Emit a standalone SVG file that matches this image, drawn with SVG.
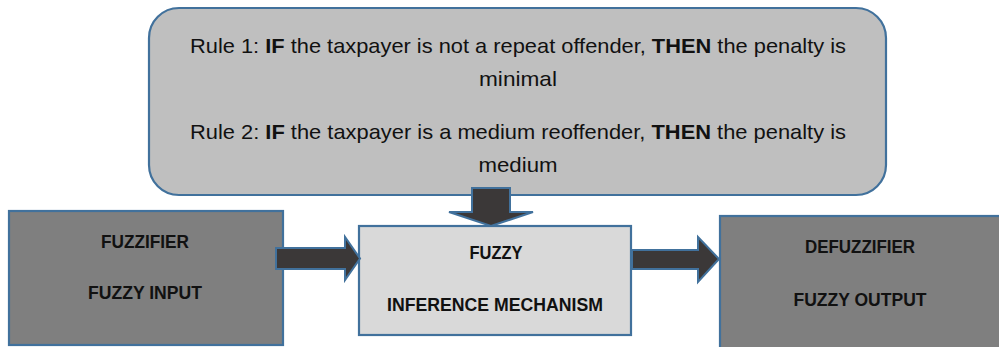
<svg xmlns="http://www.w3.org/2000/svg" width="999" height="347" viewBox="0 0 999 347">
  <style>
    .edge { stroke: #41719c; stroke-width: 2.2; }
    .rules { fill: #bfbfbf; }
    .outer { fill: #7f7f7f; }
    .engine { fill: #d9d9d9; }
    .arrow { fill: #3b3838; stroke: #41719c; stroke-width: 2; stroke-linejoin: miter; }
    .rule { font-family: "Liberation Sans", Arial, sans-serif; font-size: 21px; fill: #111; }
    .label { font-family: "Liberation Sans", Arial, sans-serif; font-size: 19px; font-weight: bold; fill: #111; text-anchor: middle; }
    .b { font-weight: bold; }
  </style>
  <rect width="999" height="347" fill="#ffffff"/>

  <!-- rule base -->
  <g id="rule-base">
    <rect class="rules edge" x="149" y="8" width="737" height="187" rx="30" ry="30"/>
    <text class="rule" x="190" y="53" textLength="656" lengthAdjust="spacingAndGlyphs">Rule 1: <tspan class="b">IF</tspan> the taxpayer is not a repeat offender, <tspan class="b">THEN</tspan> the penalty is</text>
    <text class="rule" x="518" y="86" text-anchor="middle" textLength="78" lengthAdjust="spacingAndGlyphs">minimal</text>
    <text class="rule" x="190" y="139" textLength="656" lengthAdjust="spacingAndGlyphs">Rule 2: <tspan class="b">IF</tspan> the taxpayer is a medium reoffender, <tspan class="b">THEN</tspan> the penalty is</text>
    <text class="rule" x="518" y="172" text-anchor="middle" textLength="79" lengthAdjust="spacingAndGlyphs">medium</text>
  </g>

  <!-- fuzzifier -->
  <g id="fuzzifier">
    <rect class="outer edge" x="9" y="211" width="274" height="134"/>
    <text class="label" x="145" y="248" textLength="88" lengthAdjust="spacingAndGlyphs">FUZZIFIER</text>
    <text class="label" x="145" y="299" textLength="114" lengthAdjust="spacingAndGlyphs">FUZZY INPUT</text>
  </g>

  <!-- inference engine -->
  <g id="inference">
    <rect class="engine edge" x="359" y="226" width="272" height="109"/>
    <text class="label" x="496" y="259" textLength="53" lengthAdjust="spacingAndGlyphs">FUZZY</text>
    <text class="label" x="495" y="311" textLength="216" lengthAdjust="spacingAndGlyphs">INFERENCE MECHANISM</text>
  </g>

  <!-- defuzzifier -->
  <g id="defuzzifier">
    <rect class="outer edge" x="720" y="216" width="290" height="140"/>
    <text class="label" x="860" y="253" textLength="110" lengthAdjust="spacingAndGlyphs">DEFUZZIFIER</text>
    <text class="label" x="860" y="306" textLength="133" lengthAdjust="spacingAndGlyphs">FUZZY OUTPUT</text>
  </g>

  <!-- block arrows -->
  <g id="connectors">
    <polygon class="arrow" points="472,188 510,188 510,212 533,212 491,226 449,212 472,212"/>
    <polygon class="arrow" points="276,248 345,248 345,237 360,258.5 345,280 345,269 276,269"/>
    <polygon class="arrow" points="632,250 698,250 698,237 719,259 698,282 698,269 632,269"/>
  </g>
</svg>
